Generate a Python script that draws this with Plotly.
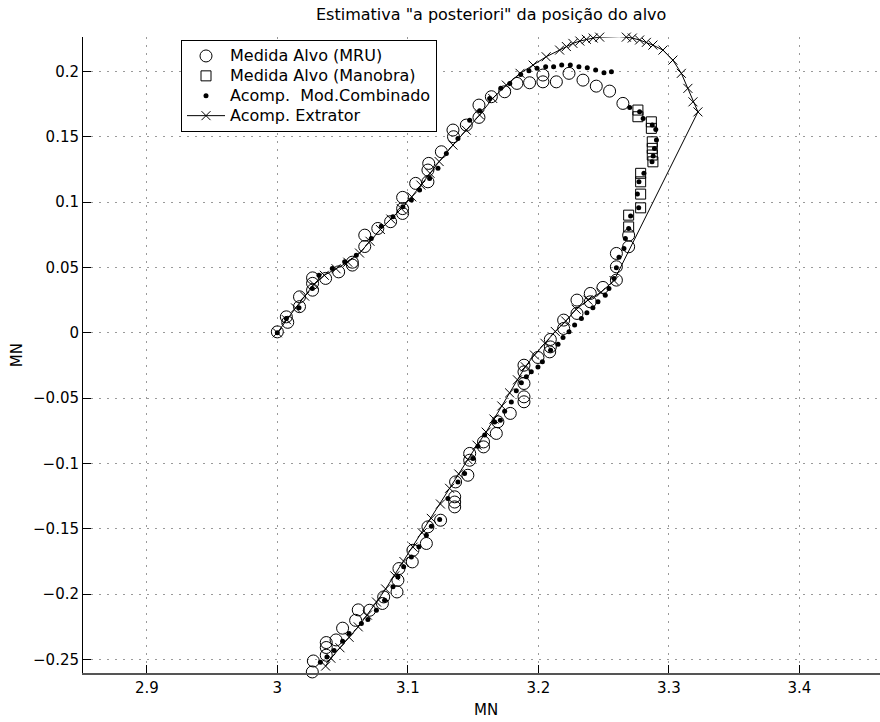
import plotly.graph_objects as go

# ---- data (MN units) ----
mru_x = [3.0, 3.0069, 3.008, 3.017, 3.017, 3.027, 3.027, 3.027, 3.037, 3.047, 3.0575, 3.0575,
         3.067, 3.067, 3.077, 3.0868, 3.096, 3.096, 3.096, 3.106, 3.1154, 3.1154, 3.116, 3.1257,
         3.1346, 3.135, 3.1448, 3.1545, 3.1545, 3.164, 3.1742, 3.1836, 3.1933, 3.2035, 3.2035,
         3.2138, 3.2235, 3.2342, 3.2444, 3.2546, 3.2648,
         3.2692, 3.2692, 3.2598, 3.2598, 3.2598, 3.2495, 3.2398, 3.2398, 3.2296, 3.2296, 3.2194,
         3.2194, 3.2092, 3.2092, 3.2087, 3.1997, 3.189, 3.189, 3.189, 3.189, 3.189, 3.1785, 3.169,
         3.1678, 3.158, 3.158, 3.1474, 3.1474, 3.146, 3.1366, 3.1359, 3.1359, 3.1359, 3.1251,
         3.1154, 3.1142, 3.1039, 3.1034, 3.0932, 3.0924, 3.0917, 3.0815, 3.0805, 3.0707, 3.062,
         3.06, 3.05, 3.045, 3.0375, 3.0375, 3.0375, 3.0276, 3.0268]
mru_y = [0.0007, 0.0122, 0.008, 0.020, 0.0275, 0.0326, 0.0378, 0.042, 0.0416, 0.0466, 0.0518, 0.054,
         0.066, 0.0747, 0.0798, 0.085, 0.0913, 0.095, 0.1036, 0.1143, 0.1155, 0.1245, 0.1296, 0.1385,
         0.1551, 0.150, 0.1589, 0.1648, 0.1742, 0.1806, 0.1844, 0.1908, 0.1913, 0.192, 0.1972,
         0.192, 0.1985, 0.1933, 0.1887, 0.1849, 0.1755,
         0.0747, 0.0658, 0.0607, 0.0505, 0.0403, 0.0347, 0.0301, 0.0237, 0.025, 0.0148, 0.0097,
         0.0033, -0.0051, -0.0108, -0.0146, -0.0189, -0.0248, -0.0299, -0.0388, -0.049, -0.0528,
         -0.0617, -0.0681, -0.077, -0.0835, -0.0873, -0.0923, -0.0975, -0.109, -0.1141, -0.1255,
         -0.1295, -0.1332, -0.1434, -0.1485, -0.1612, -0.1664, -0.1753, -0.1804, -0.1893, -0.1983,
         -0.2021, -0.2071, -0.2123, -0.212, -0.22, -0.226, -0.235, -0.237, -0.2408, -0.2467,
         -0.2511, -0.2595]

man_x = [3.2763, 3.2763, 3.2866, 3.2866, 3.2873, 3.2873, 3.2873, 3.2878, 3.2784, 3.2784, 3.2784,
         3.2784, 3.2692, 3.2692]
man_y = [0.1704, 0.1653, 0.1614, 0.1564, 0.1461, 0.1411, 0.136, 0.1308, 0.122, 0.1155, 0.1061,
         0.0956, 0.090, 0.081]

comb_x = [3.0, 3.0069, 3.0166, 3.0268, 3.0319, 3.0421, 3.0516, 3.0605, 3.072, 3.0797, 3.0886,
          3.0962, 3.1027, 3.109, 3.1167, 3.1231, 3.1295, 3.1384, 3.1474, 3.155, 3.1627, 3.1712,
          3.1781, 3.1865, 3.1928, 3.199, 3.2056, 3.2117, 3.2179, 3.2245, 3.2311, 3.2375, 3.2439,
          3.2503, 3.256,
          3.27, 3.2776, 3.2803, 3.2873, 3.29, 3.2905, 3.289, 3.288, 3.2871, 3.2809, 3.2771, 3.2759,
          3.2769, 3.2707, 3.2692, 3.2667, 3.2656, 3.2618, 3.2598, 3.258, 3.2541, 3.2513, 3.2457,
          3.2418, 3.2372, 3.233, 3.2278, 3.2235, 3.2189, 3.2151, 3.2094, 3.2031, 3.1997, 3.1946,
          3.1908, 3.187, 3.1831, 3.1793, 3.1742, 3.1709, 3.1665, 3.1589, 3.1537, 3.1499, 3.1435,
          3.1384, 3.1307, 3.1244, 3.118, 3.1142, 3.1085, 3.1027, 3.0968, 3.0924, 3.0886, 3.0822,
          3.0759, 3.0694, 3.0644, 3.055, 3.05, 3.0435, 3.038, 3.033]
comb_y = [0.0, 0.011, 0.0191, 0.0339, 0.0441, 0.0492, 0.0543, 0.0594, 0.0722, 0.0816, 0.0887,
          0.0964, 0.1015, 0.1092, 0.1181, 0.1258, 0.1372, 0.1487, 0.1627, 0.1698, 0.1793, 0.187,
          0.1908, 0.1977, 0.2005, 0.2023, 0.2035, 0.2035, 0.2048, 0.2048, 0.2035, 0.2028, 0.201,
          0.1989, 0.1997,
          0.1724, 0.1691, 0.164, 0.1589, 0.1556, 0.1474, 0.141, 0.1352, 0.1308, 0.122, 0.1155,
          0.1061, 0.0956, 0.0893, 0.0798, 0.0722, 0.0645, 0.0577, 0.0497, 0.0416, 0.0339, 0.0288,
          0.0237, 0.0191, 0.0153, 0.011, 0.0059, 0.0007, -0.0036, -0.0087, -0.0133, -0.0222,
          -0.0261, -0.0299, -0.0337, -0.0383, -0.0444, -0.0529, -0.06, -0.0669, -0.0682, -0.0783,
          -0.0868, -0.0962, -0.1077, -0.1141, -0.1268, -0.1429, -0.148, -0.1549, -0.1638, -0.1715,
          -0.1791, -0.1868, -0.1944, -0.2046, -0.2123, -0.2194, -0.2224, -0.23, -0.236, -0.243,
          -0.248, -0.252]

ext_x = [3.0, 3.007, 3.014, 3.021, 3.028, 3.036, 3.045, 3.054, 3.063, 3.071, 3.079, 3.087, 3.095,
         3.103, 3.11, 3.117, 3.124, 3.1346, 3.1448, 3.155, 3.165, 3.1755, 3.186, 3.196, 3.206,
         3.2163, 3.2215, 3.2265, 3.2318, 3.2368, 3.242, 3.247, 3.252, 3.2572, 3.262, 3.2674, 3.272,
         3.2776, 3.2828, 3.2878, 3.2955, 3.3031, 3.3096, 3.3146, 3.3185, 3.3223,
         3.258, 3.248, 3.238, 3.229, 3.221, 3.213, 3.205, 3.197, 3.19, 3.184, 3.178, 3.172, 3.166,
         3.16, 3.153, 3.146, 3.139, 3.132, 3.125, 3.118, 3.111, 3.104, 3.097, 3.09, 3.083, 3.076,
         3.069, 3.062, 3.055, 3.048, 3.041, 3.037]
ext_y = [0.0, 0.010, 0.019, 0.028, 0.037, 0.044, 0.049, 0.054, 0.061, 0.070, 0.079, 0.087, 0.095,
         0.104, 0.113, 0.122, 0.131, 0.1436, 0.155, 0.1666, 0.1793, 0.1895, 0.1985, 0.2048, 0.2112,
         0.2163, 0.219, 0.2214, 0.2232, 0.2245, 0.2255, 0.2262, 0.2265, 0.2266, 0.2266, 0.2262,
         0.2255, 0.224, 0.2222, 0.2201, 0.2163, 0.2086, 0.1985, 0.187, 0.1767, 0.169,
         0.040, 0.031, 0.025, 0.018, 0.009, 0.001, -0.008, -0.017, -0.026, -0.036, -0.046, -0.056,
         -0.066, -0.076, -0.086, -0.097, -0.108, -0.119, -0.131, -0.142, -0.153, -0.164, -0.175,
         -0.186, -0.196, -0.206, -0.216, -0.225, -0.233, -0.241, -0.249, -0.255]

series_names = ["Medida Alvo (MRU)", "Medida Alvo (Manobra)", "Acomp.  Mod.Combinado",
                "Acomp. Extrator"]

x_ticks = [2.9, 3.0, 3.1, 3.2, 3.3, 3.4]
x_tick_text = ["2.9", "3", "3.1", "3.2", "3.3", "3.4"]
y_ticks = [-0.25, -0.2, -0.15, -0.1, -0.05, 0, 0.05, 0.1, 0.15, 0.2]
y_tick_text = ["\u22120.25", "\u22120.2", "\u22120.15", "\u22120.1", "\u22120.05", "0",
               "0.05", "0.1", "0.15", "0.2"]

FONT = "DejaVu Sans, Verdana, sans-serif"

L, T, B = 83, 37, 672.7
PW, PH = 880 - L, B - T


def leg(name):
    # larger glyphs inside a compact legend row
    return '<span style="font-size:16px">' + name + "</span>"


fig = go.Figure()
fig.add_trace(go.Scatter(x=mru_x, y=mru_y, mode="markers", name=leg(series_names[0]),
                         marker=dict(symbol="circle-open", size=12, color="black",
                                     line=dict(width=1, color="black")), cliponaxis=False))
fig.add_trace(go.Scatter(x=man_x, y=man_y, mode="markers", name=leg(series_names[1]),
                         marker=dict(symbol="square-open", size=10, color="black",
                                     line=dict(width=1, color="black")), cliponaxis=False))
fig.add_trace(go.Scatter(x=comb_x, y=comb_y, mode="markers", name=leg(series_names[2]),
                         marker=dict(symbol="circle", size=5, color="black"), cliponaxis=False))
fig.add_trace(go.Scatter(x=ext_x, y=ext_y, mode="lines+markers", name=leg(series_names[3]),
                         line=dict(color="black", width=1),
                         marker=dict(symbol="x-thin-open", size=9, color="black",
                                     line=dict(width=1, color="black")), cliponaxis=False))

fig.update_layout(
    width=880, height=722,
    margin=dict(l=L, r=0, t=T, b=722 - B),
    paper_bgcolor="white", plot_bgcolor="white",
    font=dict(family=FONT, size=15, color="black"),
    showlegend=True,
    legend=dict(x=(181 - L) / PW, y=(B - 40) / PH, xanchor="left", yanchor="top",
                bgcolor="white", bordercolor="black", borderwidth=1,
                font=dict(family=FONT, size=13, color="black"),
                tracegroupgap=0, itemwidth=38),
    annotations=[
        dict(text='Estimativa "a posteriori" da posição do alvo', x=(491 - L) / PW,
             y=(B - 15) / PH,
             xref="paper", yref="paper", showarrow=False, xanchor="center", yanchor="middle",
             font=dict(family=FONT, size=16, color="black")),
        dict(text="MN", x=(486 - L) / PW, y=-(710 - B) / PH, xref="paper", yref="paper",
             showarrow=False, xanchor="center", yanchor="middle",
             font=dict(family=FONT, size=15, color="black")),
        dict(text="MN", x=-(L - 17) / PW, y=(B - 355) / PH, xref="paper", yref="paper",
             showarrow=False, xanchor="center", yanchor="middle", textangle=-90,
             font=dict(family=FONT, size=15, color="black")),
    ],
)
fig.update_xaxes(range=[2.8511, 3.4618], tickvals=x_ticks, ticktext=x_tick_text,
                 ticks="inside", ticklen=8, tickcolor="black", showline=True,
                 linecolor="#555555", linewidth=2, mirror=False,
                 showgrid=True, gridcolor="#9a9a9a", gridwidth=1, griddash="2px,6px",
                 zeroline=False, tickfont=dict(family=FONT, size=15, color="black"))
fig.update_yaxes(range=[-0.2603, 0.2263], tickvals=y_ticks, ticktext=y_tick_text,
                 ticks="inside", ticklen=8, tickcolor="black", showline=True,
                 linecolor="black", linewidth=1, mirror=False,
                 showgrid=True, gridcolor="#9a9a9a", gridwidth=1, griddash="2px,6px",
                 zeroline=False, tickfont=dict(family=FONT, size=15, color="black"))

fig.write_html("out.html")
